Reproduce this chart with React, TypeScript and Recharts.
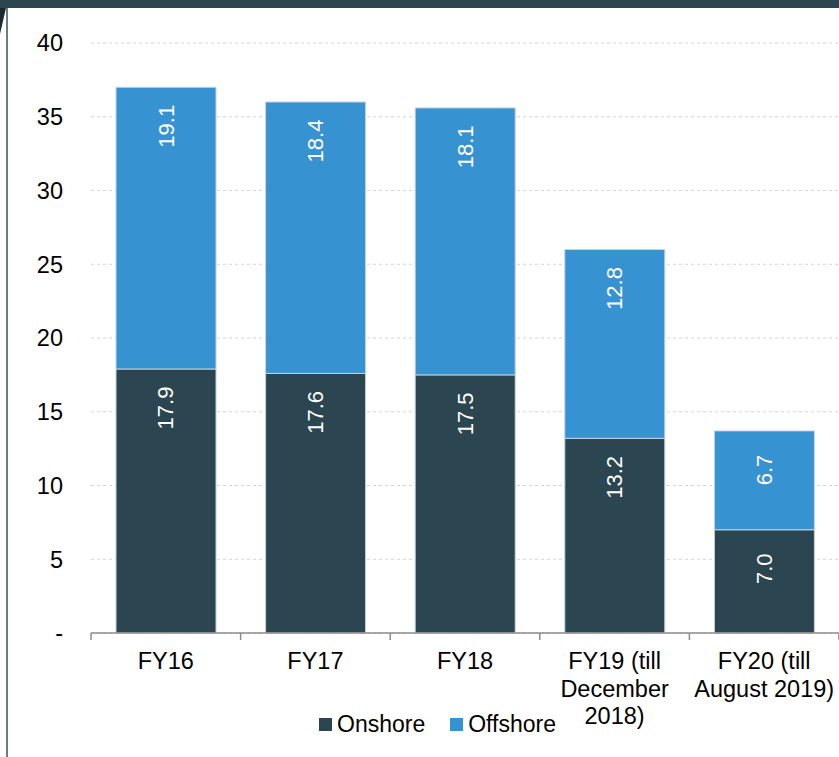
import React from 'react';
import { BarChart, Bar, XAxis, YAxis, CartesianGrid, Legend, LabelList } from 'recharts';

const categories = ['FY16', 'FY17', 'FY18', 'FY19 (till December 2018)', 'FY20 (till August 2019)'];
const onshore = [17.9, 17.6, 17.5, 13.2, 7.0];
const offshore = [19.1, 18.4, 18.1, 12.8, 6.7];
const yTicks = [0, 5, 10, 15, 20, 25, 30, 35, 40];

const SERIES = [
  { key: 'onshore', name: 'Onshore', color: '#2b4650' },
  { key: 'offshore', name: 'Offshore', color: '#3792d1' },
];

const FONT = '"Liberation Sans", Arial, sans-serif';
const WIDTH = 839;
const HEIGHT = 757;
const PLOT_LEFT = 91;
const BAND = (WIDTH - PLOT_LEFT) / categories.length;

const data = categories.map((category, i) => ({
  category,
  onshore: onshore[i],
  offshore: offshore[i],
}));

// wrap long category names onto several lines, like the original axis
const wrapLabel = (text: string, max = 12) => {
  const lines: string[] = [];
  let line = '';
  text.split(' ').forEach((word) => {
    const next = line ? `${line} ${word}` : word;
    if (next.length > max && line) {
      lines.push(line);
      line = word;
    } else {
      line = next;
    }
  });
  if (line) lines.push(line);
  return lines;
};

const CategoryTick = ({ x, y, payload, index }: any) => {
  const lines = wrapLabel(payload.value);
  const axisY = y - 8;
  const left = x - BAND / 2;
  const right = x + BAND / 2;
  return (
    <g>
      <line x1={left} y1={axisY} x2={left} y2={axisY + 7} stroke="#8c8c8c" strokeWidth={1.5} />
      {index === categories.length - 1 && (
        <line x1={right} y1={axisY} x2={right} y2={axisY + 7} stroke="#8c8c8c" strokeWidth={1.5} />
      )}
      <text x={x} y={y + 28} textAnchor="middle" fill="#000" fontSize={23.5} fontFamily={FONT}>
        {lines.map((l, i) => (
          <tspan key={i} x={x} dy={i === 0 ? 0 : 27.5}>
            {l}
          </tspan>
        ))}
      </text>
    </g>
  );
};

const SegmentLabel = ({ x, y, width, value }: any) => {
  const cx = x + width / 2;
  const cy = y + 39;
  return (
    <text
      x={cx}
      y={cy}
      transform={`rotate(-90 ${cx} ${cy})`}
      textAnchor="middle"
      dominantBaseline="central"
      fill="#fff"
      fontSize={22}
      fontFamily={FONT}
    >
      {Number(value).toFixed(1)}
    </text>
  );
};

const LegendContent = () => (
  <div style={{ display: 'flex', alignItems: 'center', fontFamily: FONT, fontSize: 23, color: '#000' }}>
    {SERIES.map((s, i) => (
      <div key={s.key} style={{ display: 'flex', alignItems: 'center', marginLeft: i === 0 ? 0 : 25 }}>
        <span style={{ width: 13, height: 13, background: s.color, display: 'inline-block', marginRight: 5 }} />
        <span>{s.name}</span>
      </div>
    ))}
  </div>
);

export default function App() {
  return (
    <div
      style={{
        position: 'absolute',
        left: 0,
        top: 0,
        width: WIDTH,
        height: HEIGHT,
        background: '#fff',
        overflow: 'hidden',
      }}
    >
      <div style={{ position: 'absolute', left: 0, top: 0, width: WIDTH, height: 8, background: '#2b4651' }} />
      <div style={{ position: 'absolute', left: 6, top: 8, width: 2, height: HEIGHT - 8, background: '#6a7c86' }} />
      <div
        style={{
          position: 'absolute',
          left: 0,
          top: 8,
          width: 0,
          height: 0,
          borderTop: '26px solid #1c2a30',
          borderRight: '6px solid transparent',
        }}
      />
      <BarChart
        width={WIDTH}
        height={HEIGHT}
        data={data}
        margin={{ top: 43, right: 0, bottom: 0, left: 0 }}
        barSize={100}
      >
        <CartesianGrid vertical={false} stroke="#d4d4d4" strokeDasharray="3 3" />
        <XAxis
          dataKey="category"
          height={124}
          interval={0}
          axisLine={{ stroke: '#8c8c8c', strokeWidth: 1.5 }}
          tickLine={false}
          tickSize={8}
          tickMargin={0}
          tick={<CategoryTick />}
        />
        <YAxis
          width={PLOT_LEFT}
          domain={[0, 40]}
          ticks={yTicks}
          axisLine={false}
          tickLine={false}
          tickSize={0}
          tickMargin={28}
          tickFormatter={(v: number) => (v === 0 ? '-' : String(v))}
          tick={{ fill: '#000', fontSize: 23.5, fontFamily: FONT }}
        />
        <Legend
          verticalAlign="middle"
          layout="horizontal"
          content={<LegendContent />}
          wrapperStyle={{ top: 711, left: 319, width: 'auto' }}
        />
        {SERIES.map((s) => (
          <Bar
            key={s.key}
            dataKey={s.key}
            name={s.name}
            stackId="total"
            fill={s.color}
            stroke="#c5d3dc"
            strokeWidth={1}
            isAnimationActive={false}
          >
            <LabelList dataKey={s.key} content={<SegmentLabel />} />
          </Bar>
        ))}
      </BarChart>
    </div>
  );
}
